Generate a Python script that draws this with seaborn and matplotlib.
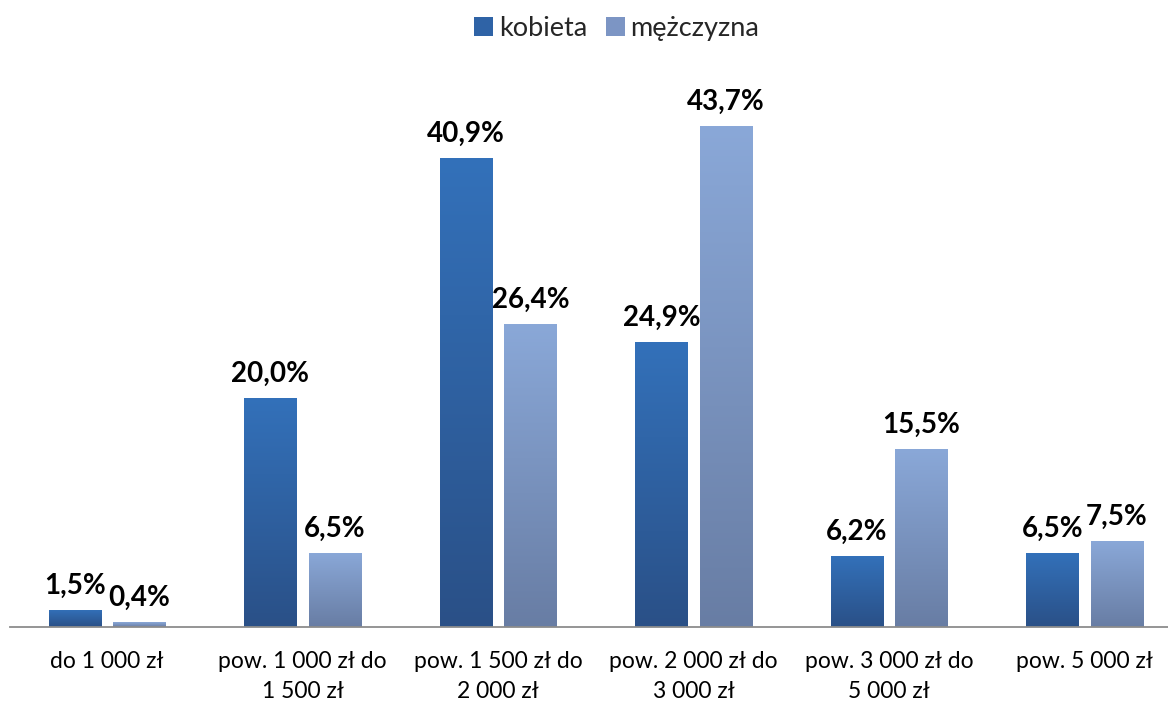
import numpy as np
import pandas as pd
import matplotlib
matplotlib.use("Agg")
import matplotlib.pyplot as plt
import seaborn as sns
from matplotlib.patches import Patch
from matplotlib.colors import LinearSegmentedColormap

categories = ["do 1 000 zł", "pow. 1 000 zł do\n1 500 zł", "pow. 1 500 zł do\n2 000 zł",
              "pow. 2 000 zł do\n3 000 zł", "pow. 3 000 zł do\n5 000 zł", "pow. 5 000 zł"]
series = ["kobieta", "mężczyzna"]
kobieta = [1.5, 20.0, 40.9, 24.9, 6.2, 6.5]
mezczyzna = [0.4, 6.5, 26.4, 43.7, 15.5, 7.5]

df = pd.DataFrame({
    "cat": categories * 2,
    "sex": [series[0]] * 6 + [series[1]] * 6,
    "val": kobieta + mezczyzna,
})

sns.set_theme(style="white")
plt.rcParams["font.family"] = ["Lato", "DejaVu Sans"]

grad = {
    "kobieta": ("#3371BA", "#2A5087"),
    "mężczyzna": ("#8AA8D8", "#687DA4"),
}
mid = {"kobieta": "#2F63A6", "mężczyzna": "#7C95C4"}

fig = plt.figure(figsize=(11.68, 7.02), dpi=100)
ax = fig.add_axes([9.5 / 1168, 75 / 702, (1168 - 9.5) / 1168, 573 / 702])

sns.barplot(data=df, x="cat", y="val", hue="sex", order=categories, hue_order=series,
            palette=mid, width=0.66, gap=0.18, legend=False, ax=ax, saturation=1)

# gradient fill
for container, s in zip(ax.containers, series):
    top, bot = grad[s]
    cmap = LinearSegmentedColormap.from_list(s, [bot, top])
    for bar, v in zip(container, container.datavalues):
        x0, y0 = bar.get_x(), bar.get_y()
        w, h = bar.get_width(), bar.get_height()
        g = np.linspace(0, 1, 256).reshape(-1, 1)
        im = ax.imshow(g, cmap=cmap, origin="lower", aspect="auto",
                       extent=(x0, x0 + w, y0, y0 + h), zorder=bar.get_zorder())
        im.set_clip_path(bar)
        bar.set_facecolor("none")
        bar.set_edgecolor("none")
        ax.annotate(f"{v:.1f}%".replace(".", ","), (x0 + w / 2, y0 + h),
                    xytext=(0, 8), textcoords="offset points", ha="center", va="bottom",
                    fontsize=20, fontweight="bold", color="black")

ax.set_xlim(-0.5, 5.5 - 14.5 / 195.5)
ax.set_ylim(0, 50)
ax.set_xlabel("")
ax.set_ylabel("")
ax.set_yticks([])
for side in ["top", "left", "right"]:
    ax.spines[side].set_visible(False)
ax.spines["bottom"].set_color("#8C8C8C")
ax.spines["bottom"].set_linewidth(1.3)
ax.tick_params(axis="x", length=0, pad=17, labelsize=16.5, labelcolor="black")
for lbl in ax.get_xticklabels():
    lbl.set_linespacing(1.55)

handles = [Patch(facecolor=mid[s], edgecolor="none") for s in series]
fig.legend(handles, series, loc="upper center", bbox_to_anchor=(0.528, 1.012), ncol=2,
           frameon=False, fontsize=19.5, handlelength=0.7, handleheight=0.7,
           handletextpad=0.2, columnspacing=0.7)

fig.savefig("out.png", dpi=100)
